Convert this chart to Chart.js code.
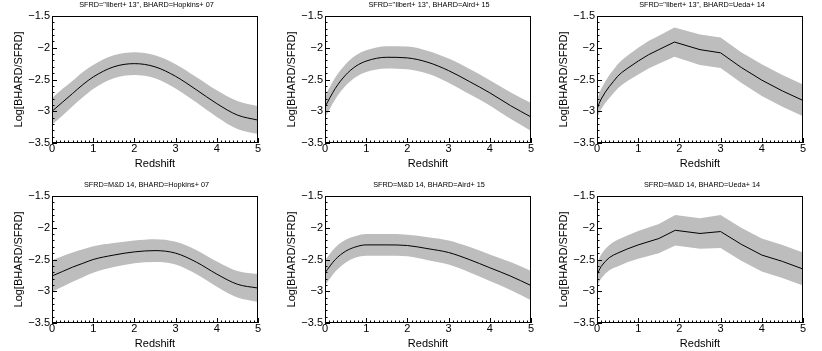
<!DOCTYPE html>
<html>
<head>
<meta charset="utf-8">
<script src="https://cdn.jsdelivr.net/npm/chart.js@4.4.1/dist/chart.umd.min.js"></script>
<style>
  html, body { margin: 0; padding: 0; background: #fff; overflow: hidden; }
  #wrap { position: relative; width: 822px; height: 351px; }
  .panel { position: absolute; width: 270px; height: 175px; }
</style>
</head>
<body>
<div id="wrap"></div>
<script>
// redshift grids (smooth models sampled on zGrid, Ueda models have kinks)
const zGrid = [0, 0.25, 0.5, 0.75, 1, 1.5, 2, 2.5, 3, 3.5, 4, 4.5, 5];
const zUedaIlbert = [0, 0.05, 0.1, 0.2, 0.3, 0.4, 0.5, 0.6, 0.75, 1, 1.25, 1.5, 1.88, 2.5, 3, 3.5, 4, 4.5, 5];
const zUedaMD = [0, 0.05, 0.1, 0.2, 0.3, 0.4, 0.5, 0.75, 1, 1.5, 1.9, 2.5, 3, 3.5, 4, 4.5, 5];

// Log[BHARD/SFRD] central values and half width of the grey band
const ilbertHopkins = [-3.0, -2.86, -2.72, -2.58, -2.46, -2.30, -2.25, -2.30, -2.45, -2.66, -2.88, -3.06, -3.14];
const ilbertHopkinsErr = [0.21, 0.21, 0.2, 0.2, 0.19, 0.18, 0.18, 0.18, 0.19, 0.2, 0.21, 0.22, 0.22];

const ilbertAird = [-2.93, -2.64, -2.43, -2.29, -2.21, -2.15, -2.16, -2.23, -2.36, -2.53, -2.71, -2.91, -3.09];
const ilbertAirdErr = [0.17, 0.17, 0.17, 0.17, 0.17, 0.175, 0.18, 0.18, 0.19, 0.2, 0.2, 0.21, 0.22];

const ilbertUeda = [-2.97, -2.88, -2.81, -2.70, -2.61, -2.53, -2.45, -2.39, -2.32, -2.21, -2.11, -2.03, -1.91,
                    -2.03, -2.08, -2.31, -2.51, -2.68, -2.83];
const ilbertUedaErr = [0.15, 0.155, 0.16, 0.17, 0.18, 0.185, 0.19, 0.195, 0.2, 0.21, 0.215, 0.22, 0.23,
                       0.24, 0.24, 0.24, 0.25, 0.25, 0.25];

const mdHopkins = [-2.76, -2.69, -2.62, -2.56, -2.50, -2.43, -2.38, -2.36, -2.40, -2.54, -2.73, -2.89, -2.95];
const mdHopkinsErr = [0.25, 0.24, 0.23, 0.22, 0.21, 0.19, 0.18, 0.18, 0.18, 0.19, 0.2, 0.21, 0.22];

const mdAird = [-2.71, -2.50, -2.37, -2.30, -2.27, -2.27, -2.28, -2.33, -2.39, -2.50, -2.63, -2.76, -2.91];
const mdAirdErr = [0.2, 0.19, 0.18, 0.17, 0.17, 0.17, 0.17, 0.18, 0.19, 0.2, 0.21, 0.22, 0.23];

const mdUeda = [-2.75, -2.67, -2.61, -2.53, -2.47, -2.43, -2.40, -2.33, -2.27, -2.17, -2.04,
                -2.09, -2.06, -2.26, -2.43, -2.53, -2.65];
const mdUedaErr = [0.18, 0.185, 0.19, 0.195, 0.2, 0.205, 0.21, 0.21, 0.22, 0.23, 0.24,
                   0.24, 0.26, 0.26, 0.26, 0.26, 0.26];

const titles = [
    'SFRD="Ilbert+ 13", BHARD=Hopkins+ 07',
    'SFRD="Ilbert+ 13", BHARD=Aird+ 15',
    'SFRD="Ilbert+ 13", BHARD=Ueda+ 14',
    'SFRD=M&D 14, BHARD=Hopkins+ 07',
    'SFRD=M&D 14, BHARD=Aird+ 15',
    'SFRD=M&D 14, BHARD=Ueda+ 14'
];

const FONT = "'Liberation Sans', Arial, Helvetica, sans-serif";
const bandColor = '#bdbdbd';

// cornice nera + tacche interne + titolo del pannello
const framePlugin = {
    id: 'frame',
    afterDraw(chart, args, opts) {
        const {ctx, chartArea: a, scales} = chart;
        const x = scales.x, y = scales.y;
        ctx.save();
        ctx.strokeStyle = '#000';
        ctx.lineWidth = 1;
        ctx.strokeRect(Math.round(a.left) + 0.5, Math.round(a.top) + 0.5,
                       Math.round(a.right - a.left) - 1, Math.round(a.bottom - a.top) - 1);
        ctx.beginPath();
        for (let i = 0; i <= 50; i++) {
            const px = Math.round(x.getPixelForValue(i / 10)) + 0.5;
            const len = i % 10 == 0 ? 5 : 2.5;
            ctx.moveTo(px, a.bottom);
            ctx.lineTo(px, a.bottom - len);
        }
        for (let i = 0; i <= 20; i++) {
            const py = Math.round(y.getPixelForValue(-3.5 + i / 10)) + 0.5;
            const len = i % 5 == 0 ? 5 : 2.5;
            ctx.moveTo(a.left, py);
            ctx.lineTo(a.left + len, py);
        }
        ctx.stroke();
        ctx.fillStyle = '#000';
        ctx.font = `7.3px ${FONT}`;
        ctx.textAlign = 'center';
        ctx.textBaseline = 'middle';
        ctx.fillText(opts.text, a.left + opts.center, 5);
        ctx.restore();
    }
};

function makePanel(idx, zs, ys, errs, smooth) {
    const col = idx % 3, row = Math.floor(idx / 3);
    const plotLeft = [52, 325, 597][col];
    const plotTop = [16, 196][row];
    const canvas = document.createElement('canvas');
    canvas.className = 'panel';
    canvas.width = 270;
    canvas.height = 175;
    canvas.style.left = (plotLeft - 52) + 'px';
    canvas.style.top = (plotTop - 16) + 'px';
    document.getElementById('wrap').appendChild(canvas);

    const pts = (f) => zs.map((z, i) => ({x: z, y: f(i)}));
    const common = {
        pointRadius: 0,
        cubicInterpolationMode: smooth ? 'monotone' : 'default',
        tension: 0
    };

    return new Chart(canvas, {
        type: 'line',
        data: {
            datasets: [
                Object.assign({data: pts(i => ys[i]), borderColor: '#000', borderWidth: 1, fill: false}, common),
                Object.assign({data: pts(i => ys[i] + errs[i]), borderWidth: 0, borderColor: bandColor,
                               backgroundColor: bandColor, fill: '+1'}, common),
                Object.assign({data: pts(i => ys[i] - errs[i]), borderWidth: 0, borderColor: bandColor,
                               fill: false}, common)
            ]
        },
        options: {
            responsive: false,
            animation: false,
            events: [],
            layout: {padding: {left: 0, right: 12, top: 16, bottom: 0}},
            plugins: {
                legend: {display: false},
                tooltip: {enabled: false},
                frame: {text: titles[idx], center: [94.5, 104, 105][col]}
            },
            scales: {
                x: {
                    type: 'linear', min: 0, max: 5,
                    grid: {display: false, drawTicks: false}, border: {display: false},
                    ticks: {stepSize: 1, color: '#000', font: {family: FONT, size: 11}, padding: -1,
                            maxRotation: 0},
                    title: {display: true, text: 'Redshift', color: '#000',
                            font: {family: FONT, size: 11}, padding: {top: 0, bottom: 4}},
                    afterFit(s) { s.height = 32; }
                },
                y: {
                    type: 'linear', min: -3.5, max: -1.5,
                    grid: {display: false, drawTicks: false}, border: {display: false},
                    ticks: {stepSize: 0.5, color: '#000', font: {family: FONT, size: 11}, padding: 2,
                            callback: v => String(v).replace('-', '\u2212')},
                    title: {display: true, text: 'Log[BHARD/SFRD]', color: '#000',
                            font: {family: FONT, size: 11}, padding: {top: 12, bottom: 0}},
                    afterFit(s) { s.width = 52; }
                }
            }
        },
        plugins: [framePlugin]
    });
}

makePanel(0, zGrid, ilbertHopkins, ilbertHopkinsErr, true);
makePanel(1, zGrid, ilbertAird, ilbertAirdErr, true);
makePanel(2, zUedaIlbert, ilbertUeda, ilbertUedaErr, false);
makePanel(3, zGrid, mdHopkins, mdHopkinsErr, true);
makePanel(4, zGrid, mdAird, mdAirdErr, true);
makePanel(5, zUedaMD, mdUeda, mdUedaErr, false);
</script>
</body>
</html>
